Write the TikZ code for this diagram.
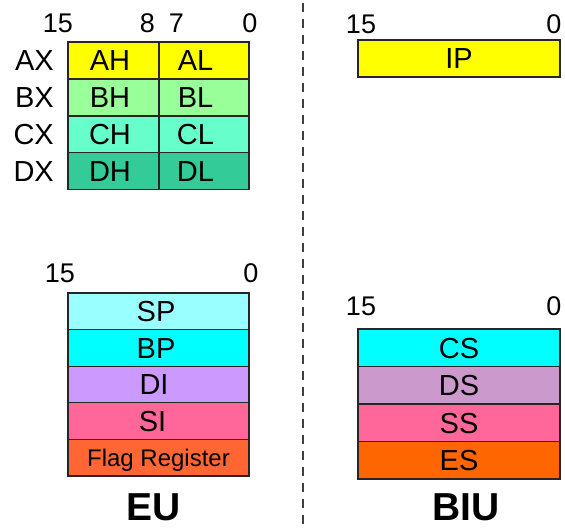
\documentclass[tikz,border=0pt]{standalone}
\usepackage{fontspec}
\setmainfont{Liberation Sans}
% register fill colours
\definecolor{regA}{HTML}{FFFF00}
\definecolor{regB}{HTML}{99FF99}
\definecolor{regC}{HTML}{66FFCC}
\definecolor{regD}{HTML}{33CC99}
\definecolor{regSP}{HTML}{99FFFF}
\definecolor{regBP}{HTML}{00FFFF}
\definecolor{regDI}{HTML}{CC99FF}
\definecolor{regSI}{HTML}{FF6699}
\definecolor{regFL}{HTML}{FF6633}
\definecolor{regCS}{HTML}{00FFFF}
\definecolor{regDS}{HTML}{CC99CC}
\definecolor{regSS}{HTML}{FF6699}
\definecolor{regES}{HTML}{FF6600}
\begin{document}
\begin{tikzpicture}[x=1pt,y=-1pt,
  cell/.style={draw=black!85, line width=1.2pt, anchor=north west,
    inner sep=0pt, outer sep=0pt, minimum height=37pt,
    text height=20.8pt, text depth=0pt, font=\fontsize{29}{30}\selectfont},
  flagcell/.style={cell, text height=17.2pt, font=\fontsize{24}{25}\selectfont},
  bits/.style={anchor=base, inner sep=0pt, font=\fontsize{27}{28}\selectfont},
  regname/.style={anchor=east, inner sep=0pt, text height=20.8pt,
    text depth=0pt, font=\fontsize{29}{30}\selectfont},
  unit/.style={anchor=south, inner sep=0pt, text height=28pt, text depth=0pt,
    font=\fontsize{39}{40}\selectfont\bfseries},
  divider/.style={draw=black!75, line width=1.6pt, dash pattern=on 9pt off 7pt}]

\useasboundingbox (0,0) rectangle (565,529);

% ---- EU: general purpose registers (high / low bytes) ----
\node[bits] (b15a) at (58,33) {15};
\node[bits] (b8a)  at (147.5,33) {8};
\node[bits] (b7a)  at (176.5,33) {7};
\node[bits] (b0a)  at (250,33) {0};

\node[cell, fill=regA, minimum width=91pt] (AH) at (68,42)  {AH\kern7pt};
\node[cell, fill=regA, minimum width=90pt] (AL) at (159,42) {AL\kern17pt};
\node[cell, fill=regB, minimum width=91pt] (BH) at (68,79)  {BH\kern7pt};
\node[cell, fill=regB, minimum width=90pt] (BL) at (159,79) {BL\kern17pt};
\node[cell, fill=regC, minimum width=91pt] (CH) at (68,116)  {CH\kern7pt};
\node[cell, fill=regC, minimum width=90pt] (CL) at (159,116) {CL\kern17pt};
\node[cell, fill=regD, minimum width=91pt] (DH) at (68,152.5)  {DH\kern7pt};
\node[cell, fill=regD, minimum width=90pt] (DL) at (159,152.5) {DL\kern17pt};

\node[regname] (AX) at (54,60.5) {AX};
\node[regname] (BX) at (54,97.5) {BX};
\node[regname] (CX) at (54,134.5) {CX};
\node[regname] (DX) at (54,171) {DX};

% ---- EU: pointer, index and flag registers ----
\node[bits] (b15b) at (60,283) {15};
\node[bits] (b0b)  at (251,283) {0};

\node[cell, fill=regSP, minimum width=181pt, minimum height=36.6pt] (SP) at (68,293)   {SP\kern5pt};
\node[cell, fill=regBP, minimum width=181pt, minimum height=36.6pt] (BP) at (68,329.6) {BP\kern5pt};
\node[cell, fill=regDI, minimum width=181pt, minimum height=36.6pt] (DI) at (68,366.2) {DI\kern9pt};
\node[cell, fill=regSI, minimum width=181pt, minimum height=36.6pt] (SI) at (68,402.8) {SI\kern12pt};
\node[flagcell, fill=regFL, minimum width=181pt, minimum height=36.6pt] (FL) at (68,439.4) {Flag Register};

\node[unit] (EU) at (154,521) {EU};

% ---- separator between the two units ----
\coordinate (divtop) at (303,3);
\coordinate (divbot) at (303,529);
\draw[divider] (divtop) -- (divbot);

% ---- BIU: instruction pointer ----
\node[bits] (b15c) at (361,34) {15};
\node[bits] (b0c)  at (554,34) {0};
\node[cell, fill=regA, minimum width=202pt] (IP) at (358,40) {IP};

% ---- BIU: segment registers ----
\node[bits] (b15d) at (361,316) {15};
\node[bits] (b0d)  at (554,316) {0};

\node[cell, fill=regCS, minimum width=202pt, minimum height=37.5pt] (CS) at (358,329)   {CS};
\node[cell, fill=regDS, minimum width=202pt, minimum height=37.5pt] (DS) at (358,366.5) {DS};
\node[cell, fill=regSS, minimum width=202pt, minimum height=37.5pt] (SS) at (358,404)   {SS};
\node[cell, fill=regES, minimum width=202pt, minimum height=37.5pt] (ES) at (358,441.5) {ES};

\node[unit] (BIU) at (466,521) {BIU};
\end{tikzpicture}
\end{document}
